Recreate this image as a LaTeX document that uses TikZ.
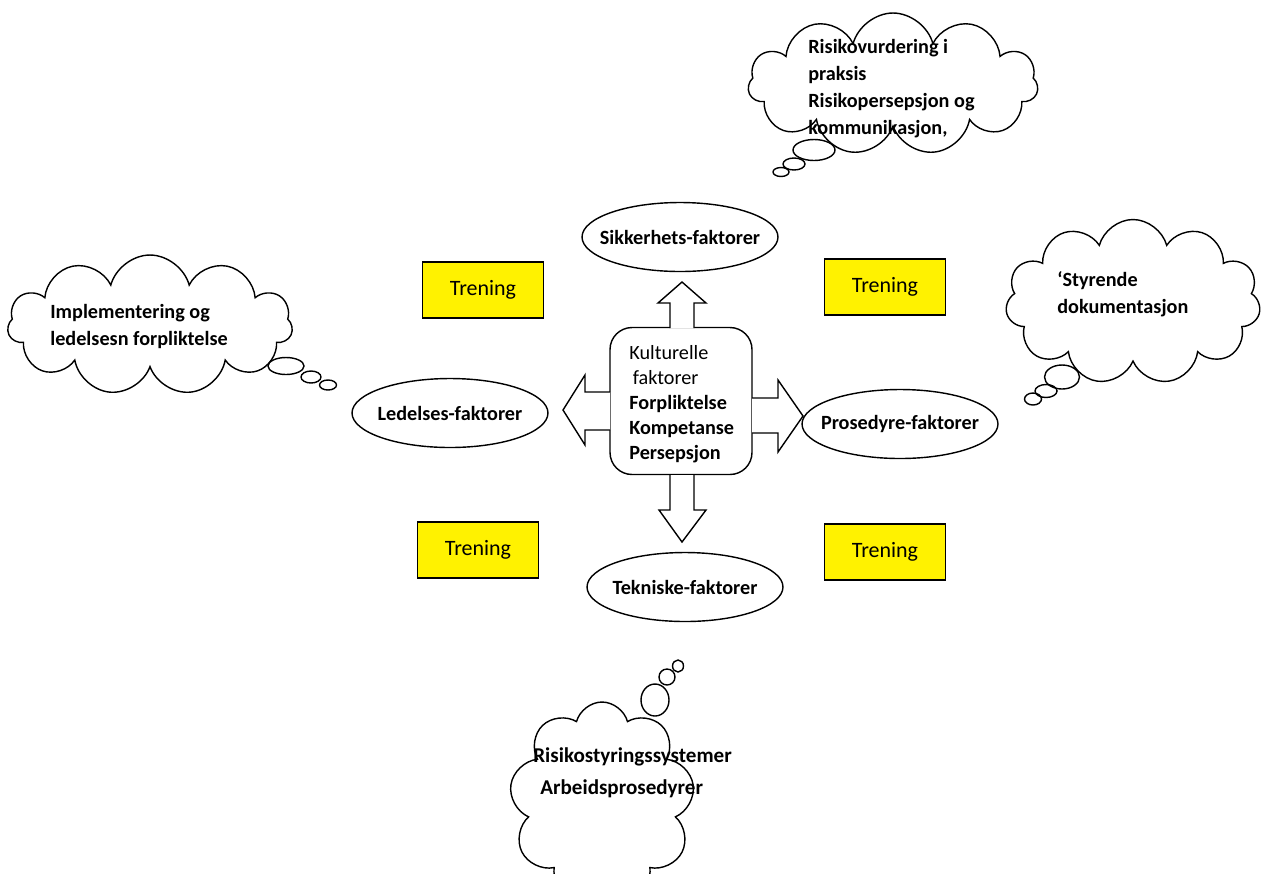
\documentclass[tikz,border=0pt]{standalone}
\usepackage{fontspec}
\setmainfont{Carlito}
\usetikzlibrary{shapes.geometric,shapes.symbols}
\definecolor{trainyellow}{RGB}{255,242,0}
% label of zero width, so the ellipse keeps its fixed size
\newcommand{\flatlabel}[1]{\makebox[0pt]{#1}}
\tikzset{
  factor/.style={ellipse, draw, line width=0.8pt, minimum width=3.92cm,
    minimum height=1.38cm, inner sep=0pt,
    font=\bfseries\fontsize{11.5}{14}\selectfont},
  training/.style={rectangle, draw, line width=1.1pt, fill=trainyellow,
    minimum width=2.42cm, minimum height=1.12cm,
    font=\fontsize{12.5}{15}\selectfont},
  thought/.style={cloud, draw, line width=0.8pt, cloud puffs=11,
    cloud ignores aspect, inner sep=0pt},
  bubble/.style={draw, line width=0.8pt},
  blockarrow/.style={draw, fill=white, line width=0.8pt, line join=miter},
  cloudtext/.style={font=\bfseries\fontsize{11.5}{15.3}\selectfont,
    align=left, inner sep=0pt, anchor=north west},
  core/.style={draw, line width=0.8pt, rounded corners=0.44cm,
    minimum width=2.84cm, minimum height=2.94cm, fill=white},
}
\begin{document}
\begin{tikzpicture}[x=0.02cm, y=-0.02cm]
  \useasboundingbox (0,0) rectangle (1273,873);
  \clip (0,0) rectangle (1273,873);

  % central box with cultural factors
  \node[core] (core) at (681,401) {};
  \node[inner sep=0pt, anchor=north west, align=left,
        font=\fontsize{11.5}{14.2}\selectfont] (coretext) at (629,345)
    {Kulturelle\\\hspace*{2pt}faktorer\\
     \textbf{Forpliktelse}\\\textbf{Kompetanse}\\\textbf{Persepsjon}};

  % the four factor groups
  \node[factor] (sik) at (680,237) {\flatlabel{Sikkerhets-faktorer}};
  \node[factor] (led) at (450,413) {\flatlabel{Ledelses-faktorer}};
  \node[factor] (pro) at (900,424) {\flatlabel{Prosedyre-faktorer}};
  \node[factor] (tek) at (685,587) {\flatlabel{Tekniske-faktorer}};

  % block arrows from the central box
  \draw[blockarrow] (670,328) -- (670,303) -- (658,303) -- (682,282)
    -- (706,303) -- (694,303) -- (694,328);
  \draw[blockarrow] (670,475) -- (670,510) -- (659,510) -- (682,542)
    -- (706,510) -- (694,510) -- (694,475);
  \draw[blockarrow] (610,392) -- (585,392) -- (585,375) -- (563,410)
    -- (585,445) -- (585,430) -- (610,430);
  \draw[blockarrow] (752,398) -- (778,398) -- (778,380) -- (803,416)
    -- (778,452) -- (778,433) -- (752,433);

  % training boxes
  \node[training] (tr1) at (483,290) {Trening};
  \node[training] (tr2) at (885,287) {Trening};
  \node[training] (tr3) at (478,550) {Trening};
  \node[training] (tr4) at (885,552) {Trening};

  % thought cloud: risk assessment
  \node[thought, minimum width=5.8cm, minimum height=2.84cm] (c1) at (893,84) {};
  \draw[bubble] (814,150) ellipse [x radius=21, y radius=10.5];
  \draw[bubble] (794,164) ellipse [x radius=11, y radius=6];
  \draw[bubble] (781,172) ellipse [x radius=8, y radius=4.5];
  \node[cloudtext] (t1) at (808,39)
    {Risikovurdering i\\praksis\\Risikopersepsjon og\\kommunikasjon,};

  % thought cloud: management
  \node[thought, minimum width=5.7cm, minimum height=2.8cm] (c2) at (150,325) {};
  \draw[bubble] (286,366) ellipse [x radius=18, y radius=8.5];
  \draw[bubble] (311,377) ellipse [x radius=10, y radius=6];
  \draw[bubble] (328,385) ellipse [x radius=8.5, y radius=5];
  \node[cloudtext] (t2) at (50,304)
    {Implementering og\\ledelsesn forpliktelse};

  % thought cloud: governing documents
  \node[thought, minimum width=5.1cm, minimum height=3.3cm] (c3) at (1133,302) {};
  \draw[bubble] (1062,377) ellipse [x radius=17.5, y radius=12];
  \draw[bubble] (1046,391) ellipse [x radius=11, y radius=6.5];
  \draw[bubble] (1033,399) ellipse [x radius=8.5, y radius=6];
  \node[cloudtext] (t3) at (1057,271) {`Styrende\\dokumentasjon};

  % thought cloud: risk management systems
  \node[thought, cloud puffs=9, minimum width=3.7cm, minimum height=4cm] (c4) at (602,802) {};
  \draw[bubble] (655,700) ellipse [x radius=14, y radius=16];
  \draw[bubble] (667,677) ellipse [x radius=8, y radius=8];
  \draw[bubble] (678,666) ellipse [x radius=5.5, y radius=6];
  \node[cloudtext, font=\bfseries\fontsize{12}{15.3}\selectfont] (t4) at (533,747)
    {Risikostyringssystemer\\[3pt]\hspace*{4pt}Arbeidsprosedyrer};
\end{tikzpicture}
\end{document}
